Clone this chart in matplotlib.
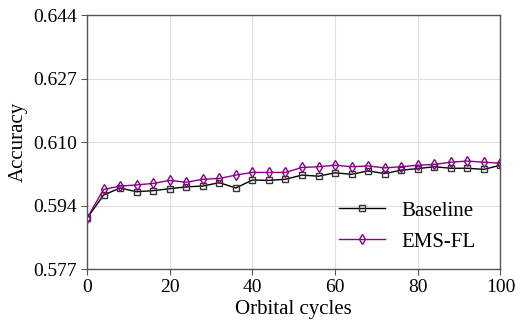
import numpy as np
import matplotlib
matplotlib.use("Agg")
import matplotlib.pyplot as plt

cycles = list(range(0, 101, 4))
baseline = [0.5904, 0.5965, 0.5984, 0.5974, 0.5977, 0.5982, 0.5987, 0.5989, 0.5998, 0.5984,
            0.6005, 0.6004, 0.6007, 0.6018, 0.6015, 0.6024, 0.6020, 0.6029, 0.6022, 0.6031,
            0.6035, 0.6040, 0.6036, 0.6036, 0.6033, 0.6044]
emsfl = [0.5904, 0.5980, 0.5989, 0.5992, 0.5996, 0.6004, 0.5999, 0.6007, 0.6009, 0.6018,
         0.6025, 0.6025, 0.6025, 0.6038, 0.6040, 0.6044, 0.6040, 0.6042, 0.6037, 0.6040,
         0.6044, 0.6046, 0.6052, 0.6055, 0.6052, 0.6049]
yticks = [0.577, 0.594, 0.610, 0.627, 0.644]
xticks = [0, 20, 40, 60, 80, 100]

plt.rcParams['font.family'] = ['Liberation Serif', 'DejaVu Serif']

fig = plt.figure(figsize=(5.24, 3.27), dpi=100)
ax = fig.add_axes([0.166, 0.177, 0.789, 0.777])

ax.plot(cycles, baseline, color='black', lw=1.0, marker='s', ms=4.5, mfc='none',
        mec='#333333', mew=1.0, label='Baseline')
ax.plot(cycles, emsfl, color='#8B008B', lw=1.0, marker='d', ms=5, mfc='none',
        mec='#8B008B', mew=1.0, label='EMS-FL')

ax.set_xlim(0, 100)
ax.set_ylim(0.577, 0.644)
ax.set_xticks(xticks)
ax.set_yticks(np.linspace(0.577, 0.644, 5))
ax.set_yticklabels([f"{v:.3f}" for v in yticks])
ax.grid(True, color='#dddddd', lw=0.8)
ax.set_axisbelow(True)
for s in ax.spines.values():
    s.set_color('#555555')
    s.set_linewidth(1.0)
ax.tick_params(direction='out', length=4, color='#555555', labelsize=14, pad=3)
ax.set_xlabel('Orbital cycles', fontsize=15, labelpad=3)
ax.set_ylabel('Accuracy', fontsize=15, labelpad=4)
ax.legend(loc='lower right', frameon=False, fontsize=15, handlelength=2.2,
          borderaxespad=0.8, labelspacing=0.55, bbox_to_anchor=(1.0, -0.03))

fig.savefig('out.png', dpi=100)
